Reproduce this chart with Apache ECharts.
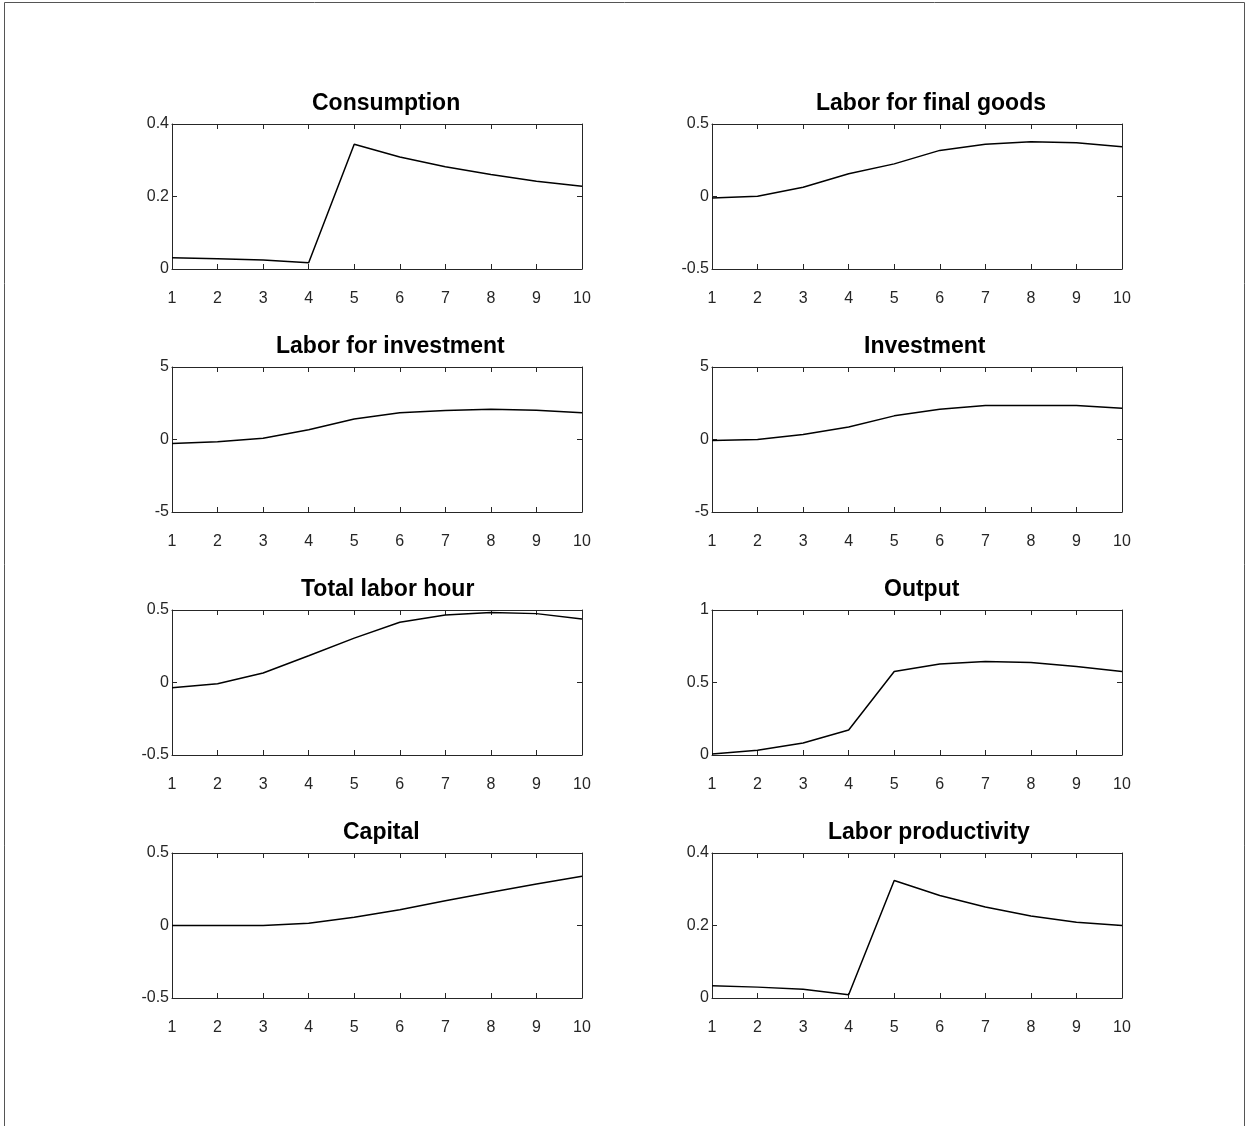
<!DOCTYPE html>
<html>
<head>
<meta charset="utf-8">
<script src="https://cdn.jsdelivr.net/npm/echarts@6/dist/echarts.min.js"></script>
<style>
html,body{margin:0;padding:0;background:#fff;}
#chart{width:1247px;height:1126px;}
</style>
</head>
<body>
<div id="chart"></div>
<script>
// ---- Data ----
var periods = [1,2,3,4,5,6,7,8,9,10];
var titles = ["Consumption","Labor for final goods","Labor for investment","Investment","Total labor hour","Output","Capital","Labor productivity"];
var consumption   = [0.031,0.028,0.025,0.017,0.344,0.309,0.282,0.261,0.242,0.228];
var laborFinal    = [-0.011,0.002,0.064,0.157,0.225,0.318,0.361,0.377,0.370,0.343];
var laborInvest   = [-0.28,-0.16,0.09,0.67,1.42,1.84,2.00,2.09,2.02,1.84];
var investment    = [-0.07,0.00,0.35,0.86,1.63,2.09,2.35,2.35,2.35,2.16];
var totalLabor    = [-0.037,-0.009,0.065,0.184,0.306,0.415,0.465,0.482,0.475,0.438];
var output        = [0.007,0.032,0.083,0.172,0.576,0.628,0.644,0.638,0.610,0.576];
var capital       = [0.000,0.000,0.000,0.016,0.057,0.109,0.170,0.230,0.286,0.339];
var laborProd     = [0.034,0.030,0.024,0.009,0.324,0.283,0.251,0.226,0.209,0.200];
var yMin      = [0,-0.5,-5,-5,-0.5,0,-0.5,0];
var yMax      = [0.4,0.5,5,5,0.5,1,0.5,0.4];
var yInterval = [0.2,0.5,5,5,0.5,0.5,0.5,0.2];
var xMin = 1, xMax = 10, xInterval = 1;

var seriesData = [consumption, laborFinal, laborInvest, investment, totalLabor, output, capital, laborProd];

(function () {
  var colLeft = [172, 712];
  var rowTop = [124, 367, 610, 853];
  var gW = 410, gH = 145;
  var axisColor = '#262626';
  var fontFam = 'Liberation Sans, Arial, sans-serif';

  var cv = document.createElement('canvas').getContext('2d');
  cv.font = 'bold 23px "Liberation Sans"';

  function xAxisDef(i, pos) {
    return {
      type: 'value', gridIndex: i, position: pos, min: xMin, max: xMax, interval: xInterval,
      splitLine: {show: false},
      axisLine: {show: true, onZero: false, lineStyle: {color: axisColor, width: 1}},
      axisTick: {show: true, inside: true, length: 5, lineStyle: {color: axisColor, width: 1}},
      axisLabel: pos === 'bottom'
        ? {show: true, margin: 22, fontSize: 16, color: axisColor, fontFamily: fontFam}
        : {show: false}
    };
  }
  function yAxisDef(i, pos) {
    return {
      type: 'value', gridIndex: i, position: pos, min: yMin[i], max: yMax[i], interval: yInterval[i],
      splitLine: {show: false},
      axisLine: {show: true, onZero: false, lineStyle: {color: axisColor, width: 1}},
      axisTick: {show: true, inside: true, length: 5, lineStyle: {color: axisColor, width: 1}},
      axisLabel: pos === 'left'
        ? {show: true, margin: 3, fontSize: 16, color: axisColor, fontFamily: fontFam, padding: [5, 0, 0, 0]}
        : {show: false}
    };
  }

  var grids = [], xAxes = [], yAxes = [], series = [], titleArr = [];
  for (var i = 0; i < 8; i++) {
    var c = i % 2, r = Math.floor(i / 2);
    var gLeft = colLeft[c], gTop = rowTop[r];
    grids.push({left: gLeft, top: gTop, width: gW, height: gH});
    xAxes.push(xAxisDef(i, 'bottom'));
    xAxes.push(xAxisDef(i, 'top'));
    yAxes.push(yAxisDef(i, 'left'));
    yAxes.push(yAxisDef(i, 'right'));
    var pts = [];
    for (var k = 0; k < periods.length; k++) pts.push([periods[k], seriesData[i][k]]);
    series.push({type: 'line', xAxisIndex: 2 * i, yAxisIndex: 2 * i, symbol: 'none', silent: true,
      data: pts, lineStyle: {color: '#000', width: 1.5}});
    var w = cv.measureText(titles[i]).width;
    titleArr.push({text: titles[i], left: Math.round(gLeft + gW / 2 - 0.44 * w), top: gTop - 32, padding: 0,
      textStyle: {fontSize: 23, fontWeight: 'bold', color: '#000', fontFamily: fontFam, lineHeight: 23}});
  }

  var chart = echarts.init(document.getElementById('chart'));
  chart.setOption({
    backgroundColor: '#fff',
    animation: false,
    title: titleArr,
    grid: grids,
    xAxis: xAxes,
    yAxis: yAxes,
    series: series,
    graphic: {elements: [{type: 'rect', left: 4, top: 2, shape: {width: 1240, height: 1140},
      style: {fill: 'transparent', stroke: '#555', lineWidth: 1}, silent: true}]}
  });
})();
</script>
</body>
</html>
